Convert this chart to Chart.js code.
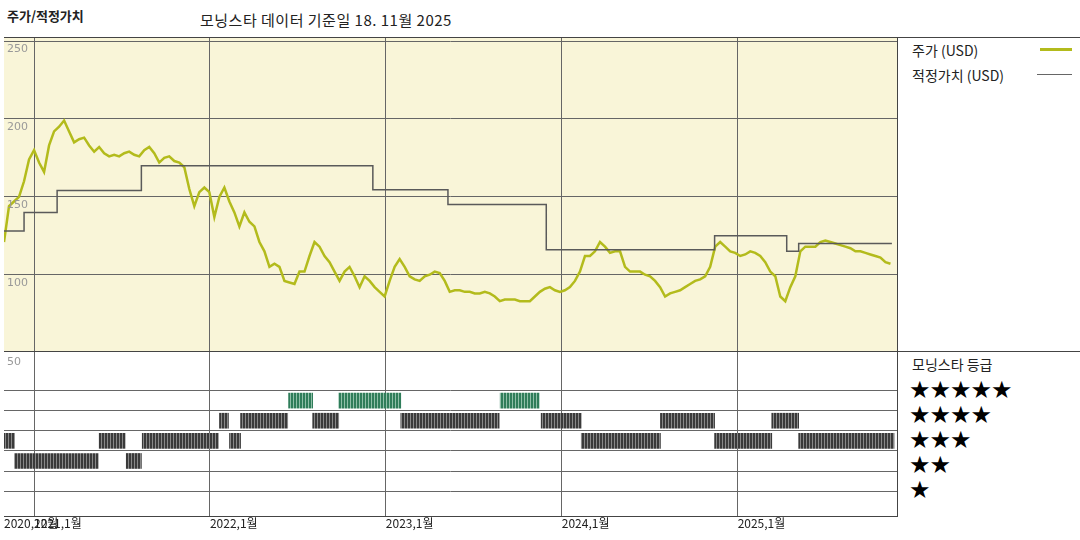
<!DOCTYPE html>
<html><head><meta charset="utf-8">
<script src="https://cdn.jsdelivr.net/npm/chart.js@4"></script>
<style>
body{margin:0;width:1080px;height:540px;background:#fff;position:relative;overflow:hidden;font-family:"Noto Sans CJK KR","DejaVu Sans",sans-serif;color:#222}
.t{position:absolute;white-space:nowrap}
.ln{position:absolute;background:#444;z-index:10}
#w1{position:absolute;left:4px;top:38px;width:893px;height:313px;background:#f9f5d8;z-index:5;overflow:hidden}
#w2{position:absolute;left:4px;top:352px;width:893px;height:164px;overflow:hidden}
</style></head><body>
<div class="t" style="left:7px;top:6px;font-size:13px;font-weight:bold">주가/적정가치</div>
<div class="t" style="left:200px;top:9px;font-size:15px;letter-spacing:0.5px">모닝스타 데이터 기준일 18. 11월 2025</div>
<div id="w1"><canvas id="c1"></canvas></div>
<div id="w2"><canvas id="c2"></canvas></div>
<div class="ln" style="left:4px;top:37px;width:1076px;height:1px"></div>
<div class="ln" style="left:4px;top:351px;width:1076px;height:1px"></div>
<div class="ln" style="left:4px;top:516px;width:893px;height:1px"></div>
<div class="ln" style="left:897px;top:37px;width:1px;height:480px"></div>
<div class="t" style="left:912px;top:40px;font-size:14px">주가 (USD)</div>
<div class="ln" style="left:1040px;top:48px;width:32px;height:3px;background:#b3bb1c"></div>
<div class="t" style="left:912px;top:65px;font-size:14px">적정가치 (USD)</div>
<div class="ln" style="left:1037px;top:74px;width:35px;height:1px;background:#666"></div>
<div class="t" style="left:912px;top:354px;font-size:14px">모닝스타 등급</div>
<div class="t" style="left:7px;top:355px;font-size:11px;color:#999;font-family:'DejaVu Sans'">50</div>
<script>
// ---- data ----
const priceStart = 2020.829;          // decimal year of first price sample
const priceStep = 5/175.6;            // sampling interval (years)
const price = [121,144,147,150,160,174,180,172,166,183,192,195,199,192,185,187,188,183,179,182,178,176,177,176,178,179,177,176,180,182,178,172,175,176,173,172,169,155,144,153,156,153,137,150,156,147,140,131,140,134,131,121,115,105,107,105,96,95,94,102,102,112,121,118,112,108,102,96,102,105,99,92,99,96,92,89,86,96,105,110,105,99,97,96,99,100,102,101,96,89,90,90,89,89,88,88,89,88,86,83,84,84,84,83,83,83,86,89,91,92,90,89,90,92,96,102,112,112,115,121,118,114,115,115,105,102,102,102,100,99,96,92,86,88,89,90,92,94,96,97,99,105,118,121,118,115,114,112,113,115,114,112,108,102,99,86,83,92,99,115,118,118,118,121,122,121,120,119,118,117,115,115,114,113,112,111,108,107];
const fairDates = [2020.829,2020.943,2021.131,2021.610,2022.926,2023.353,2023.912,2024.869,2025.279,2025.347,2025.877];
const fairValues = [128,140,154,170,154.5,145,116,125,115,120,120];
const ratingSegments = [
 [3,2020.829,2020.889],[2,2020.889,2021.365],[3,2021.370,2021.518],[2,2021.524,2021.610],
 [3,2021.615,2022.048],[4,2022.054,2022.105],[3,2022.111,2022.174],[4,2022.174,2022.442],
 [5,2022.447,2022.584],[4,2022.584,2022.732],[5,2022.732,2023.085],[4,2023.085,2023.644],
 [5,2023.650,2023.872],[4,2023.883,2024.111],[3,2024.111,2024.561],[4,2024.561,2024.869],
 [3,2024.869,2025.194],[4,2025.194,2025.347],[3,2025.347,2025.889]];
const yearTicks = [2020.829,2021,2022,2023,2024,2025];
const yearLabels = ["2020,12월","2021,1월","2022,1월","2023,1월","2024,1월","2025,1월"];
const priceTicks = [100,150,200,250];
const xMin = 2020.829, xMax = 2025.906;
// ---- build ----
const pricePts = price.map((v,i)=>({x:priceStart+i*priceStep,y:v}));
const fairPts = fairDates.map((d,i)=>({x:d,y:fairValues[i]}));
const dash = {borderDash:[1,2],color:'#666',lineWidth:1};
const yLab = {id:'ylab',afterDatasetsDraw(c){const {ctx}=c,s=c.scales.y;ctx.save();ctx.fillStyle='#999';ctx.font='11px "DejaVu Sans"';ctx.textBaseline='top';
 priceTicks.forEach(v=>ctx.fillText(String(v),3,s.getPixelForValue(v)+3));ctx.restore();}};
const xs = {type:'linear',min:xMin,max:xMax,afterBuildTicks:s=>{s.ticks=yearTicks.slice(1).map(v=>({value:v}))},afterFit:s=>{s.height=0},
      ticks:{display:false},grid:{...dash,drawTicks:false},border:{display:false}};
new Chart(document.getElementById('c1'),{
 type:'line',
 data:{datasets:[
  {data:fairPts,borderColor:'#5a5a5a',borderWidth:1.5,stepped:'before',pointRadius:0},
  {data:pricePts,borderColor:'#b3bb1c',borderWidth:2.5,pointRadius:0,tension:0}]},
 options:{responsive:true,maintainAspectRatio:false,animation:false,layout:{padding:0},
  plugins:{legend:{display:false},tooltip:{enabled:false}},
  scales:{x:xs,
   y:{min:51,max:252,afterBuildTicks:s=>{s.ticks=priceTicks.map(v=>({value:v}))},afterFit:s=>{s.width=0},
      ticks:{display:false},grid:{...dash,drawTicks:false},border:{display:false}}}},
 plugins:[yLab]});
function pattern(base,stripe){const p=document.createElement('canvas');p.width=6;p.height=2;const g=p.getContext('2d');
 g.fillStyle=base;g.fillRect(0,0,6,2);g.fillStyle=stripe;g.fillRect(1,0,1,2);g.fillRect(4,0,1,2);
 return document.getElementById('c2').getContext('2d').createPattern(p,'repeat');}
const dark=pattern('#3a3a3a','#888'), green=pattern('#2f7d5a','#8fbfa8');
new Chart(document.getElementById('c2'),{
 type:'bar',
 data:{datasets:[{data:ratingSegments.map(s=>({y:s[0],x:[s[1],s[2]]})),
   backgroundColor:ratingSegments.map(s=>s[0]===5?green:dark),borderWidth:0,barThickness:15,grouped:false}]},
 options:{indexAxis:'y',responsive:true,maintainAspectRatio:false,animation:false,layout:{padding:0},
  plugins:{legend:{display:false},tooltip:{enabled:false}},
  scales:{x:xs,
   y:{type:'linear',min:0.08,max:6.6,afterBuildTicks:s=>{s.ticks=[1,2,3,4,5].map(v=>({value:v}))},afterFit:s=>{s.width=0},
      ticks:{display:false},grid:{...dash,drawTicks:false},border:{display:false}}}}});
const sx = v=>4+(v-xMin)/(xMax-xMin)*893;
yearTicks.forEach((v,i)=>{const d=document.createElement('div');d.className='t';d.style.cssText=`left:${sx(v)}px;top:514px;font-size:12px`;d.textContent=yearLabels[i];document.body.appendChild(d);});
[5,4,3,2,1].forEach((n,i)=>{const d=document.createElement('div');d.className='t';d.style.cssText=`left:909px;top:${376+i*25}px;font-size:24px;line-height:28px;letter-spacing:-1px;color:#000;font-family:'DejaVu Sans'`;d.textContent='★'.repeat(n);document.body.appendChild(d);});
</script></body></html>
